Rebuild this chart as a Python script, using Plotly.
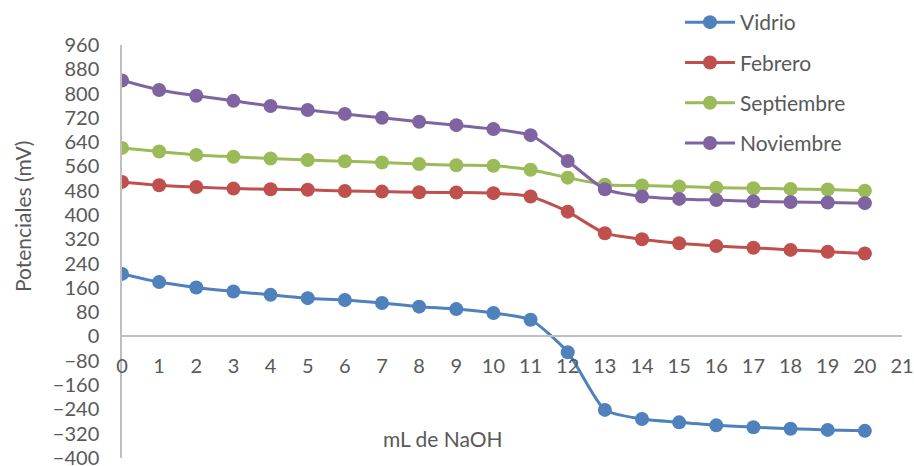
import plotly.graph_objects as go

x_ml = list(range(0, 21))
vidrio = [206, 179, 161, 148, 137, 126, 120, 110, 98, 90, 77, 55, -52, -242, -272, -283, -293, -299, -304, -308, -311]
febrero = [509, 498, 492, 487, 485, 483, 479, 477, 475, 474, 472, 461, 411, 340, 320, 307, 298, 292, 285, 279, 273]
septiembre = [621, 609, 598, 592, 586, 581, 577, 573, 568, 564, 562, 549, 523, 500, 497, 494, 490, 488, 486, 484, 480]
noviembre = [843, 812, 793, 776, 759, 746, 733, 720, 707, 696, 683, 663, 578, 485, 461, 453, 449, 445, 443, 441, 439]

series = [
    ("Vidrio", vidrio, "#4F81BD"),
    ("Febrero", febrero, "#C0504D"),
    ("Septiembre", septiembre, "#9BBB59"),
    ("Noviembre", noviembre, "#8064A2"),
]

y_min, y_max, y_step = -400, 960, 80
x_min, x_max = 0, 21

FONT = "Lato"
TXT = "#595959"

fig = go.Figure()
for i, (name, vals, col) in enumerate(series):
    fig.add_trace(go.Scatter(
        x=x_ml, y=vals, name=name, mode="lines+markers",
        line=dict(color=col, width=3, shape="spline", smoothing=0.6),
        marker=dict(color=col, size=14),
        legendgroup=f"g{i}",
    ))

fig.update_layout(
    width=914, height=466,
    margin=dict(l=122, r=12, t=45, b=8, autoexpand=False),
    paper_bgcolor="white", plot_bgcolor="white",
    font=dict(family=FONT, color=TXT, size=20),
    showlegend=True,
    legend=dict(
        x=(680 - 122) / 780, y=(458 - 2) / 413, xanchor="left", yanchor="top",
        font=dict(size=21, color=TXT, family=FONT),
        tracegroupgap=10, itemwidth=50, bgcolor="rgba(0,0,0,0)",
    ),
    xaxis=dict(
        range=[x_min, x_max], tickmode="linear", tick0=0, dtick=1,
        showgrid=False, zeroline=False, automargin=False,
        showline=True, linecolor="#BFBFBF", linewidth=1.5,
        anchor="free", position=(0 - (y_min - 0.5)) / (y_max - (y_min - 0.5)),
        ticks="", ticklabelstandoff=12, ticklabeloverflow="allow",
        tickfont=dict(size=20, color=TXT, family=FONT),
    ),
    yaxis=dict(
        range=[y_min - 0.5, y_max], tickmode="linear", tick0=y_min, dtick=y_step,
        showgrid=False, zeroline=False, automargin=False,
        showline=True, linecolor="#BFBFBF", linewidth=1.5,
        ticks="", ticklabelstandoff=17, ticklabeloverflow="allow",
        tickfont=dict(size=20, color=TXT, family=FONT),
    ),
    annotations=[
        dict(text="Potenciales (mV)", textangle=-90, xref="paper", yref="paper",
             x=(22 - 122) / 780, y=(458 - 217) / 413, xanchor="center", yanchor="middle",
             showarrow=False, font=dict(size=21, color=TXT, family=FONT)),
        dict(text="mL de NaOH", xref="paper", yref="paper",
             x=(443 - 122) / 780, y=(458 - 438) / 413, xanchor="center", yanchor="middle",
             showarrow=False, font=dict(size=21, color=TXT, family=FONT)),
    ],
)

fig.write_html("out.html")
